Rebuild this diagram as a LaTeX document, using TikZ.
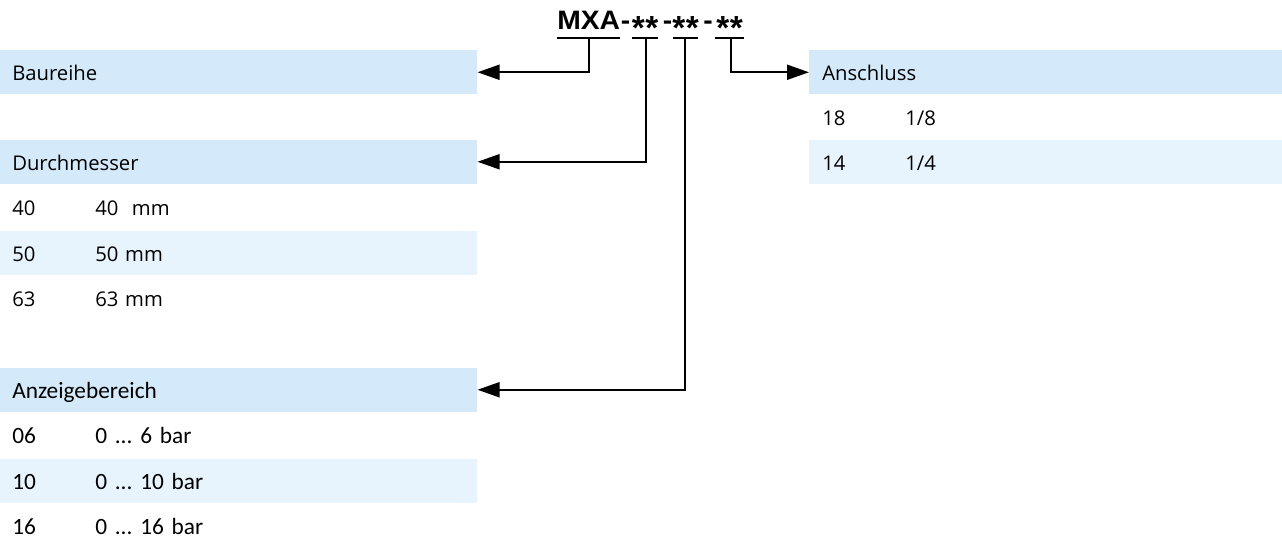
\documentclass[tikz,border=0pt]{standalone}
\usepackage{fontspec}
\usepackage{graphicx}
\usetikzlibrary{arrows.meta}
\setmainfont{Open Sans}
\newfontfamily\calfont{Carlito}
\newfontfamily\titlefont{Liberation Sans}
\definecolor{hdrblue}{RGB}{212,234,250}
\definecolor{altblue}{RGB}{232,244,253}
\frenchspacing
\newcommand\twostars{\raisebox{-7.5pt}{\fontsize{25pt}{25pt}\selectfont *\kern0.5pt*}}
\newcommand\tdash{\scalebox{1.06}[1]{-}}
\newcommand\colA[1]{\makebox[62.25pt][l]{#1}}
\tikzset{
  rowL/.style={rectangle, anchor=north west, inner ysep=0pt, inner xsep=9pt,
    minimum width=357.75pt, minimum height=33pt, text width=339.75pt,
    text height=12.75pt, text depth=0pt, align=left,
    font=\fontsize{15.2pt}{18pt}\selectfont},
  rowLc/.style={rowL, font=\calfont\fontsize{17.5pt}{20pt}\selectfont},
  rowR/.style={rectangle, anchor=north west, inner ysep=0pt, inner xsep=9.75pt,
    minimum width=354.75pt, minimum height=33pt, text width=335.25pt,
    text height=12.75pt, text depth=0pt, align=left,
    font=\fontsize{15.2pt}{18pt}\selectfont},
  hdr/.style={fill=hdrblue},
  alt/.style={fill=altblue},
  conn/.style={line width=1.5pt, -{Triangle[length=16.5pt,width=11.25pt]}},
  uline/.style={line width=1.5pt},
}
\begin{document}
\begin{tikzpicture}[x=0.75pt,y=-0.75pt]
\path[use as bounding box] (0,0) rectangle (1282,538);
% title
\node[anchor=base west, inner sep=0pt] (title) at (557,29.5)
  {\titlefont\bfseries\fontsize{20pt}{20pt}\selectfont
   \scalebox{1.06}[1]{MXA}\makebox[8.25pt]{\tdash}\makebox[21pt]{\twostars}%
   \makebox[12.75pt]{\tdash}\makebox[14.25pt]{\twostars}%
   \makebox[19.5pt]{\tdash}\makebox[12.75pt]{\twostars}};
% underlines
\coordinate (u1a) at (557,38); \coordinate (u1b) at (620,38);
\coordinate (u2a) at (632,38); \coordinate (u2b) at (658,38);
\coordinate (u3a) at (673,38); \coordinate (u3b) at (698,38);
\coordinate (u4a) at (715,38); \coordinate (u4b) at (744,38);
\coordinate (d1) at (589,38);
\coordinate (d2) at (646,38);
\coordinate (d3) at (685,38);
\coordinate (d4) at (731,38);
\draw[uline] (u1a) -- (u1b);
\draw[uline] (u2a) -- (u2b);
\draw[uline] (u3a) -- (u3b);
\draw[uline] (u4a) -- (u4b);
% left tables
\node[rowL, hdr] (baureihe) at (0,50) {Baureihe};
\node[rowL, hdr] (durch) at (0,139.5) {Durchmesser};
\node[rowL] (r40) at (0,185) {\colA{40}40\ \ mm};
\node[rowL, alt] (r50) at (0,230.5) {\colA{50}50 mm};
\node[rowL] (r63) at (0,276) {\colA{63}63 mm};
\node[rowLc, hdr] (anz) at (0,367.5) {Anzeigebereich};
\node[rowLc] (r06) at (0,413) {\colA{06}0 ... 6 bar};
\node[rowLc, alt] (r10) at (0,458.5) {\colA{10}0 ... 10 bar};
\node[rowLc] (r16) at (0,504) {\colA{16}0 ... 16 bar};
% right table
\node[rowR, hdr] (ansch) at (809,50) {Anschluss};
\node[rowR] (r18) at (809,95) {\colA{18}1/8};
\node[rowR, alt] (r14) at (809,139.5) {\colA{14}1/4};
% connectors
\draw[conn] (d1) |- (baureihe.east);
\draw[conn] (d2) |- (durch.east);
\draw[conn] (d3) |- (anz.east);
\draw[conn] (d4) |- (ansch.west);
\end{tikzpicture}
\end{document}
